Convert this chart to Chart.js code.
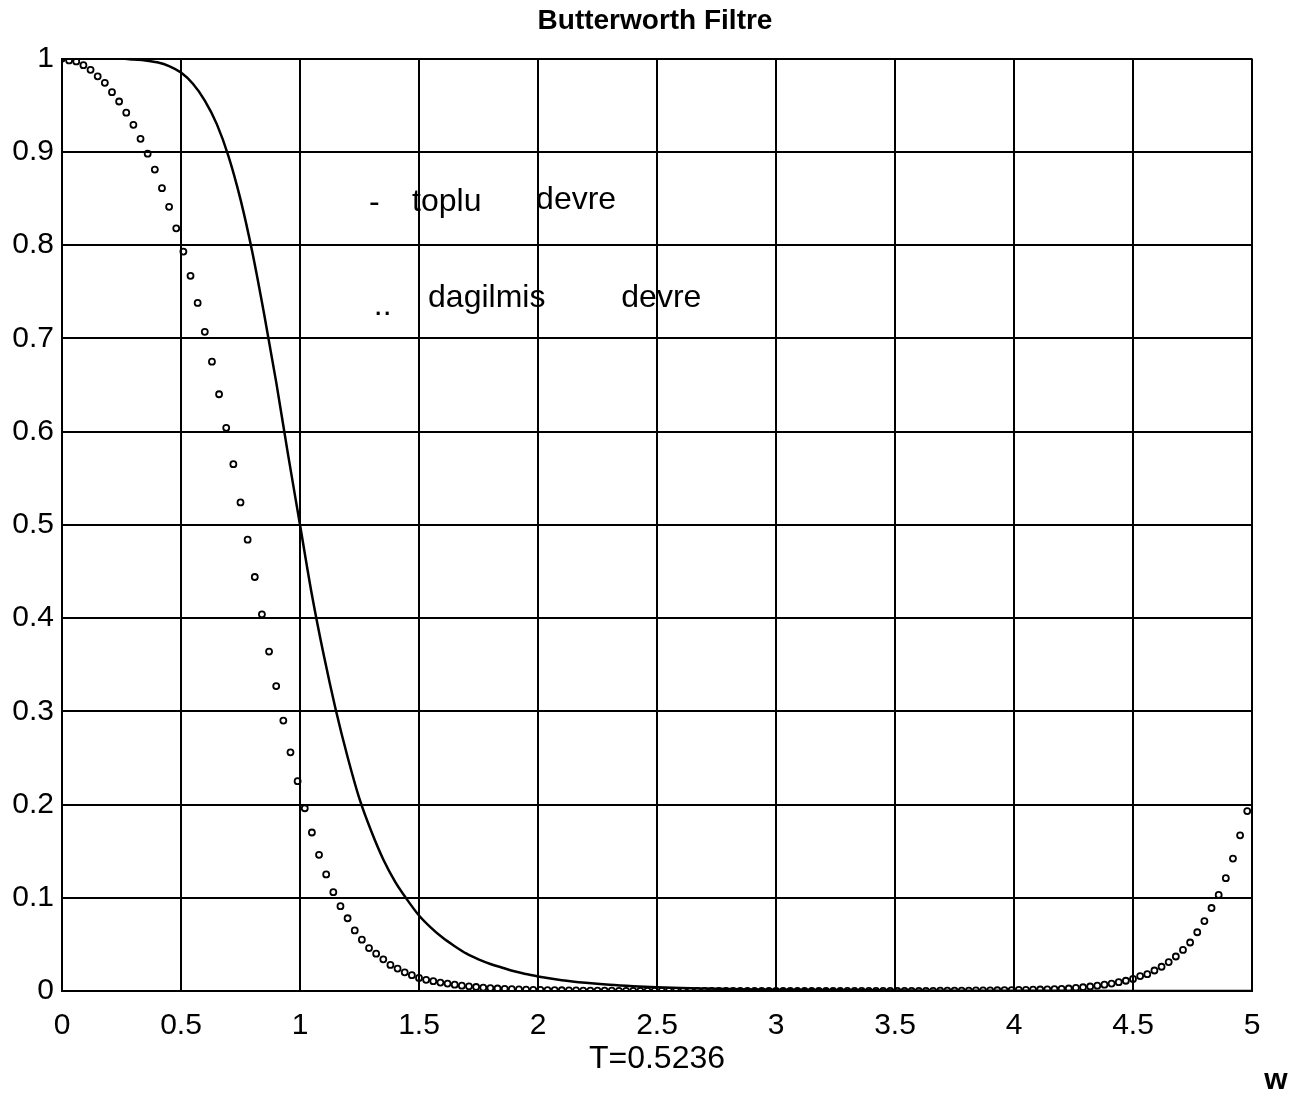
<!DOCTYPE html>
<html>
<head>
<meta charset="utf-8">
<script src="https://cdn.jsdelivr.net/npm/chart.js@4.4.1/dist/chart.umd.min.js"></script>
<style>
  html, body { margin: 0; padding: 0; background: #ffffff; }
  #wrap { width: 1310px; height: 1095px; }
</style>
</head>
<body>
<div id="wrap"><canvas id="c" width="1310" height="1095"></canvas></div>
<script>
// ---- data ----
const TITLE = 'Butterworth Filtre';
const X_LABEL = 'T=0.5236';
const X_CORNER_LABEL = 'w';
const X_TICKS = ['0', '0.5', '1', '1.5', '2', '2.5', '3', '3.5', '4', '4.5', '5'];
const Y_TICKS = ['0', '0.1', '0.2', '0.3', '0.4', '0.5', '0.6', '0.7', '0.8', '0.9', '1'];

// solid curve ("toplu devre")
const W_LUMPED = [0, 0.05, 0.1, 0.15, 0.2, 0.25, 0.3, 0.35, 0.4, 0.45, 0.5, 0.55, 0.6, 0.65, 0.7, 0.75, 0.8, 0.85, 0.9, 0.95,
  1.0, 1.05, 1.1, 1.15, 1.2, 1.25, 1.3, 1.35, 1.4, 1.45, 1.5, 1.55, 1.6, 1.65, 1.7, 1.75, 1.8, 1.85, 1.9, 1.95,
  2.0, 2.1, 2.2, 2.3, 2.4, 2.5, 2.6, 2.7, 2.8, 2.9, 3.0, 3.2, 3.4, 3.6, 3.8, 4.0, 4.5, 5.0];
const H_LUMPED = [1, 1, 1, 1, 1, 1, 0.999, 0.998, 0.996, 0.992, 0.985, 0.973, 0.955, 0.93, 0.895, 0.849, 0.792, 0.725, 0.653, 0.575,
  0.5, 0.425, 0.36, 0.302, 0.251, 0.206, 0.171, 0.141, 0.117, 0.098, 0.081, 0.068, 0.057, 0.048, 0.04, 0.034, 0.029, 0.025, 0.0212, 0.0182,
  0.0155, 0.0116, 0.0088, 0.0067, 0.0052, 0.0041, 0.0032, 0.0026, 0.0021, 0.0017, 0.0014, 0.001, 0.0007, 0.0005, 0.0003, 0.0002, 0.0001, 0.0001];

// dotted curve ("dagilmis devre")
const W_DIST = [0, 0.03, 0.06, 0.09, 0.12, 0.15, 0.18, 0.21, 0.24, 0.27, 0.3, 0.33, 0.36, 0.39, 0.42, 0.45, 0.48, 0.51, 0.54, 0.57,
  0.6, 0.63, 0.66, 0.69, 0.72, 0.75, 0.78, 0.81, 0.84, 0.87, 0.9, 0.93, 0.96, 0.99, 1.02, 1.05, 1.08, 1.11, 1.14, 1.17,
  1.2, 1.23, 1.26, 1.29, 1.32, 1.35, 1.38, 1.41, 1.44, 1.47, 1.5, 1.53, 1.56, 1.59, 1.62, 1.65, 1.68, 1.71, 1.74, 1.77,
  1.8, 1.83, 1.86, 1.89, 1.92, 1.95, 1.98, 2.01, 2.04, 2.07, 2.1, 2.13, 2.16, 2.19, 2.22, 2.25, 2.28, 2.31, 2.34, 2.37,
  2.4, 2.43, 2.46, 2.49, 2.52, 2.55, 2.58, 2.61, 2.64, 2.67, 2.7, 2.73, 2.76, 2.79, 2.82, 2.85, 2.88, 2.91, 2.94, 2.97,
  3.0, 3.03, 3.06, 3.09, 3.12, 3.15, 3.18, 3.21, 3.24, 3.27, 3.3, 3.33, 3.36, 3.39, 3.42, 3.45, 3.48, 3.51, 3.54, 3.57,
  3.6, 3.63, 3.66, 3.69, 3.72, 3.75, 3.78, 3.81, 3.84, 3.87, 3.9, 3.93, 3.96, 3.99, 4.02, 4.05, 4.08, 4.11, 4.14, 4.17,
  4.2, 4.23, 4.26, 4.29, 4.32, 4.35, 4.38, 4.41, 4.44, 4.47, 4.5, 4.53, 4.56, 4.59, 4.62, 4.65, 4.68, 4.71, 4.74, 4.77,
  4.8, 4.83, 4.86, 4.89, 4.92, 4.95, 4.98];
const H_DIST = [1.0, 0.998, 0.997, 0.993, 0.988, 0.981, 0.974, 0.964, 0.954, 0.942, 0.929, 0.914, 0.898, 0.881, 0.861, 0.841, 0.818, 0.793, 0.767, 0.738,
  0.707, 0.675, 0.64, 0.604, 0.565, 0.524, 0.484, 0.444, 0.404, 0.364, 0.327, 0.29, 0.256, 0.225, 0.196, 0.17, 0.146, 0.125, 0.106, 0.091,
  0.078, 0.065, 0.055, 0.046, 0.04, 0.034, 0.028, 0.024, 0.02, 0.017, 0.014, 0.012, 0.0105, 0.009, 0.008, 0.0068, 0.0057, 0.005, 0.0043, 0.0036,
  0.0031, 0.0027, 0.0023, 0.002, 0.0017, 0.0015, 0.0013, 0.0011, 0.001, 0.0009, 0.0008, 0.0007, 0.0006, 0.0005, 0.0005, 0.0004, 0.0003, 0.0003, 0.0002, 0.0002,
  0.0002, 0.0001, 0.0001, 0.0001, 0.0001, 0.0001, 0.0001, 0.0001, 0.0001, 0.0001, 0.0001, 0, 0, 0, 0, 0, 0, 0, 0, 0,
  0, 0, 0, 0, 0, 0, 0, 0, 0, 0, 0.0001, 0.0001, 0.0001, 0.0001, 0.0001, 0.0001, 0.0001, 0.0001, 0.0001, 0.0001,
  0.0002, 0.0002, 0.0002, 0.0003, 0.0003, 0.0004, 0.0004, 0.0005, 0.0006, 0.0006, 0.0007, 0.0008, 0.0009, 0.001, 0.0011, 0.0012, 0.0014, 0.0016, 0.0018, 0.002,
  0.0022, 0.0027, 0.0033, 0.004, 0.0048, 0.0057, 0.0068, 0.008, 0.0095, 0.011, 0.013, 0.016, 0.018, 0.022, 0.026, 0.031, 0.037, 0.044, 0.052, 0.063,
  0.075, 0.089, 0.103, 0.121, 0.142, 0.167, 0.193];

// in-plot annotation texts (placed in data coordinates)
const NOTES = [
  { text: '-',        w: 1.29,  h: 0.836 },
  { text: 'toplu',    w: 1.471, h: 0.837 },
  { text: 'devre',    w: 1.992, h: 0.839 },
  { text: '..',       w: 1.31,  h: 0.725 },
  { text: 'dagilmis', w: 1.538, h: 0.734 },
  { text: 'devre',    w: 2.35,  h: 0.734 }
];

const FONT = "'Liberation Sans', Arial, sans-serif";

const notesPlugin = {
  id: 'notes',
  afterDatasetsDraw(chart) {
    const ctx = chart.ctx;
    const xs = chart.scales.x, ys = chart.scales.y;
    ctx.save();
    ctx.fillStyle = '#000';
    ctx.textBaseline = 'alphabetic';
    ctx.textAlign = 'left';
    ctx.font = '32px ' + FONT;
    NOTES.forEach(n => {
      ctx.fillText(n.text, xs.getPixelForValue(n.w), ys.getPixelForValue(n.h));
    });
    ctx.font = 'bold 30px ' + FONT;
    ctx.textAlign = 'center';
    ctx.fillText(X_CORNER_LABEL, xs.getPixelForValue(5.1), chart.height - 6);
    ctx.restore();
  }
};

new Chart(document.getElementById('c'), {
  type: 'scatter',
  data: {
    datasets: [
      {
        label: 'toplu devre',
        data: W_LUMPED.map((w, i) => ({ x: w, y: H_LUMPED[i] })),
        showLine: true,
        borderColor: '#000',
        borderWidth: 2.5,
        pointRadius: 0,
        cubicInterpolationMode: 'monotone',
        fill: false
      },
      {
        label: 'dagilmis devre',
        data: W_DIST.map((w, i) => ({ x: w, y: H_DIST[i] })),
        showLine: false,
        pointStyle: 'circle',
        pointRadius: 3,
        pointBorderWidth: 1.8,
        pointBorderColor: '#000',
        pointBackgroundColor: 'rgba(255,255,255,0)'
      }
    ]
  },
  options: {
    responsive: false,
    animation: false,
    layout: { padding: 0 },
    plugins: {
      legend: { display: false },
      tooltip: { enabled: false },
      title: {
        display: true,
        text: TITLE,
        color: '#000',
        font: { family: FONT, size: 28, weight: 'bold', lineHeight: 1.2 },
        padding: { top: 4, bottom: 21 }
      }
    },
    scales: {
      x: {
        type: 'linear',
        min: 0, max: 5,
        afterFit(scale) { scale.height = 104; },
        afterBuildTicks(scale) { scale.ticks = X_TICKS.map(t => ({ value: parseFloat(t) })); },
        ticks: {
          color: '#000',
          font: { family: FONT, size: 30 },
          padding: 17,
          maxRotation: 0,
          autoSkip: false,
          callback: (v, i) => X_TICKS[i]
        },
        grid: { color: '#000', lineWidth: 2, drawTicks: false },
        border: { display: true, color: '#000', width: 2 },
        title: {
          display: true,
          text: X_LABEL,
          color: '#000',
          font: { family: FONT, size: 32, lineHeight: 1.2 },
          padding: { top: 0, bottom: 17 }
        }
      },
      y: {
        type: 'linear',
        position: 'left',
        min: 0, max: 1,
        afterFit(scale) { scale.width = 62; },
        afterBuildTicks(scale) { scale.ticks = Y_TICKS.map(t => ({ value: parseFloat(t) })); },
        ticks: {
          color: '#000',
          font: { family: FONT, size: 30 },
          padding: 8,
          autoSkip: false,
          callback: (v, i) => Y_TICKS[i]
        },
        grid: { color: '#000', lineWidth: 2, drawTicks: false },
        border: { display: true, color: '#000', width: 2 }
      },
      yRight: {
        type: 'linear',
        position: 'right',
        min: 0, max: 1,
        afterFit(scale) { scale.width = 58; },
        ticks: { display: false },
        grid: { display: false, drawTicks: false },
        border: { display: false }
      }
    }
  },
  plugins: [notesPlugin]
});
</script>
</body>
</html>
